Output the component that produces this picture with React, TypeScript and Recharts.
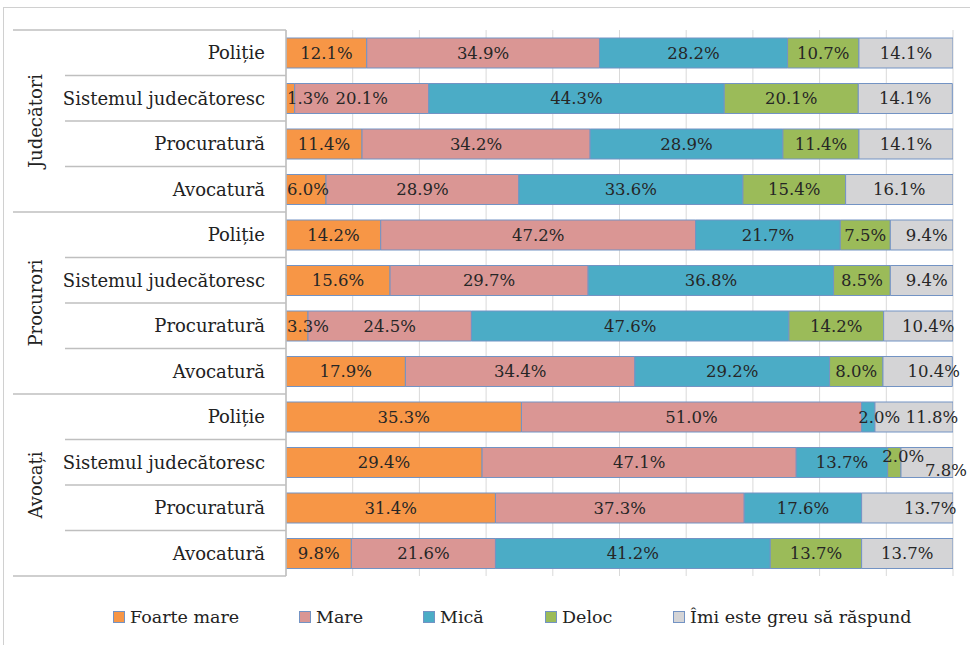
import React from "react";
import { BarChart, Bar, XAxis, YAxis, CartesianGrid, LabelList } from "recharts";

const groups = ["Judecători", "Procurori", "Avocați"];
const institutions = ["Poliție", "Sistemul judecătoresc", "Procuratură", "Avocatură"];

const seriesNames = ["Foarte mare", "Mare", "Mică", "Deloc", "Îmi este greu să răspund"];

// rows: Judecători x4, Procurori x4, Avocați x4
const foarteMare = [12.1, 1.3, 11.4, 6.0, 14.2, 15.6, 3.3, 17.9, 35.3, 29.4, 31.4, 9.8];
const mare = [34.9, 20.1, 34.2, 28.9, 47.2, 29.7, 24.5, 34.4, 51.0, 47.1, 37.3, 21.6];
const mica = [28.2, 44.3, 28.9, 33.6, 21.7, 36.8, 47.6, 29.2, 2.0, 13.7, 17.6, 41.2];
const deloc = [10.7, 20.1, 11.4, 15.4, 7.5, 8.5, 14.2, 8.0, 0, 2.0, 0, 13.7];
const greu = [14.1, 14.1, 14.1, 16.1, 9.4, 9.4, 10.4, 10.4, 11.8, 7.8, 13.7, 13.7];

const xTicks = [0, 10, 20, 30, 40, 50, 60, 70, 80, 90, 100];

const seriesKeys = ["s0", "s1", "s2", "s3", "s4"];
const seriesValues = [foarteMare, mare, mica, deloc, greu];
const colors = ["#F79646", "#DA9694", "#4BACC6", "#9BBB59", "#D4D4D6"];

const data = foarteMare.map((_, i) => {
  const row: any = {
    id: `${i}`,
    group: groups[Math.floor(i / 4)],
    name: institutions[i % 4],
  };
  seriesKeys.forEach((k, s) => {
    row[k] = seriesValues[s][i];
  });
  return row;
});

// layout constants
const W = 970;
const H = 645;
const TOP = 30;
const BOTTOM = 69;
const LEFT_AXIS = 286;
const RIGHT = 17;
const BAND = (H - TOP - BOTTOM) / data.length;
const FONT = "'DejaVu Serif', serif";
const LABEL_SIZE = 16.5;

// manual label nudges (style only) keyed by row index + series
const nudges: Record<string, { dx: number; dy: number }> = {
  "8-s2": { dx: 11, dy: 0 },
  "8-s4": { dx: 18, dy: 0 },
  "9-s3": { dx: 9, dy: -6 },
  "9-s4": { dx: 19, dy: 8 },
  "10-s4": { dx: 23, dy: 0 },
  "6-s4": { dx: 10, dy: 0 },
  "7-s4": { dx: 16, dy: 0 },
  "4-s4": { dx: 5, dy: 0 },
  "5-s4": { dx: 5, dy: 0 },
};

const estWidth = (s: string) => {
  let w = 0;
  for (const c of s) {
    if (c === ".") w += 0.318 * LABEL_SIZE;
    else if (c === "%") w += 0.95 * LABEL_SIZE;
    else w += 0.636 * LABEL_SIZE;
  }
  return w;
};

const makeLabel = (key: string) => (props: any) => {
  const { x, y, width, height, value } = props;
  if (value === null || value === undefined || Number(value) === 0) return null;
  const cy = Number(y) + Number(height) / 2;
  const rowIdx = Math.floor((cy - TOP) / BAND);
  const txt = `${Number(value).toFixed(1)}%`;
  const tw = estWidth(txt);
  let cx = Number(x) + Number(width) / 2;
  if (cx - tw / 2 < LEFT_AXIS + 1) cx = LEFT_AXIS + 1 + tw / 2;
  const n = nudges[`${rowIdx}-${key}`] || { dx: 0, dy: 0 };
  return (
    <text
      key={`${key}-${rowIdx}`}
      x={cx + n.dx}
      y={cy + n.dy}
      textAnchor="middle"
      dominantBaseline="central"
      fontFamily={FONT}
      fontSize={LABEL_SIZE}
      fill="#262626"
    >
      {txt}
    </text>
  );
};

const YTick = (props: any) => {
  const { y, payload } = props;
  const i = payload.index ?? Number(payload.value);
  const row = data[i];
  const top = y - BAND / 2;
  const bottom = y + BAND / 2;
  return (
    <g>
      <line
        x1={i % 4 === 0 ? 13 : 65}
        x2={LEFT_AXIS}
        y1={top}
        y2={top}
        stroke="#BFBFBF"
        strokeWidth={1.5}
      />
      {i === data.length - 1 && (
        <line x1={13} x2={LEFT_AXIS} y1={bottom} y2={bottom} stroke="#BFBFBF" strokeWidth={1.5} />
      )}
      <text
        x={265}
        y={y}
        textAnchor="end"
        dominantBaseline="central"
        fontFamily={FONT}
        fontSize={18}
        fill="#222"
      >
        {row ? row.name : ""}
      </text>
      {i % 4 === 1 && (
        <text
          x={35}
          y={bottom}
          textAnchor="middle"
          dominantBaseline="central"
          fontFamily={FONT}
          fontSize={18}
          fill="#222"
          transform={`rotate(-90 35 ${bottom})`}
        >
          {row.group}
        </text>
      )}
    </g>
  );
};

const legendLefts = [113, 299, 423, 545, 673];

const LegendBlock = () => (
  <div style={{ position: "absolute", left: 0, top: 606, width: W, height: 24 }}>
    {seriesNames.map((n, i) => (
      <div
        key={n}
        style={{
          position: "absolute",
          left: legendLefts[i],
          top: 0,
          display: "flex",
          alignItems: "center",
          fontFamily: FONT,
          fontSize: 17.5,
          lineHeight: "22px",
          color: "#222",
          whiteSpace: "nowrap",
        }}
      >
        <span
          style={{
            display: "inline-block",
            width: 10,
            height: 10,
            background: colors[i],
            border: "1px solid #7393C4",
            marginRight: 5,
          }}
        />
        {n}
      </div>
    ))}
  </div>
);

export default function App() {
  return (
    <div style={{ position: "absolute", left: 0, top: 0, width: W, height: H, background: "#fff", overflow: "hidden" }}>
      <div
        style={{
          position: "absolute",
          left: 3,
          top: 7,
          width: W,
          height: H,
          borderLeft: "1.5px solid #D0D0D0",
          borderTop: "1.5px solid #D0D0D0",
          pointerEvents: "none",
        }}
      />
      <BarChart
        width={W}
        height={H}
        data={data}
        layout="vertical"
        margin={{ top: TOP, right: RIGHT, bottom: BOTTOM, left: 0 }}
        barSize={30}
      >
        <CartesianGrid horizontal={false} vertical={true} stroke="#D9D9D9" />
        <XAxis type="number" domain={[0, 100]} ticks={xTicks} allowDataOverflow hide />
        <YAxis
          type="category"
          dataKey="id"
          width={LEFT_AXIS}
          tick={<YTick />}
          tickLine={false}
          axisLine={{ stroke: "#BFBFBF", strokeWidth: 1.5 }}
          interval={0}
        />
        {seriesKeys.map((k, s) => (
          <Bar
            key={k}
            dataKey={k}
            name={seriesNames[s]}
            stackId="a"
            fill={colors[s]}
            stroke="#7393C4"
            strokeWidth={1}
            isAnimationActive={false}
          >
            <LabelList dataKey={k} content={makeLabel(k)} />
          </Bar>
        ))}
      </BarChart>
      <LegendBlock />
    </div>
  );
}
